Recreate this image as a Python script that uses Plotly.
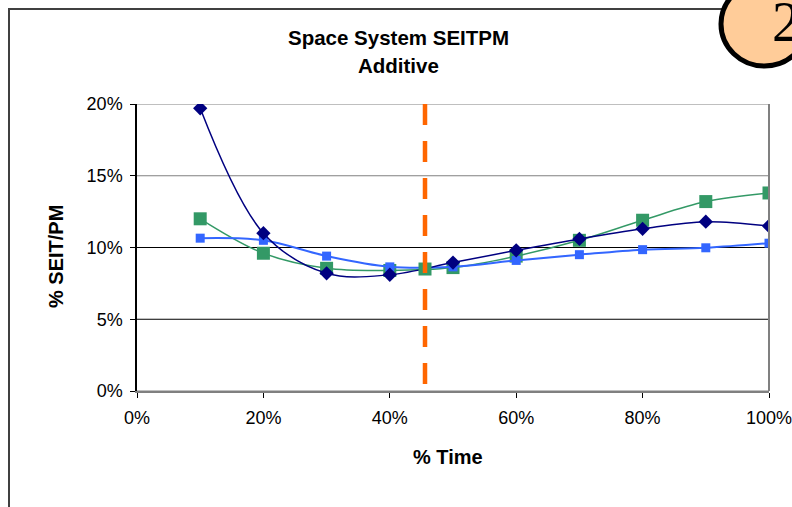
import plotly.graph_objects as go

x_time = [0.1, 0.2, 0.3, 0.4, 0.5, 0.6, 0.7, 0.8, 0.9, 1.0]
navy_vals = [0.197, 0.110, 0.082, 0.081, 0.0895, 0.098, 0.106, 0.113, 0.118, 0.115]
green_vals = [0.120, 0.096, 0.0855, 0.084, 0.086, 0.094, 0.105, 0.119, 0.132, 0.138]
blue_vals = [0.1065, 0.105, 0.094, 0.0865, 0.0865, 0.091, 0.095, 0.0985, 0.0998, 0.103]
cross_x = [0.4557]
cross_y = [0.085]
line_x = [0.4557, 0.4557]
line_y = [0.20, 0.0]
y_ticks = [0, 0.05, 0.10, 0.15, 0.20]
x_ticks = [0, 0.2, 0.4, 0.6, 0.8, 1.0]

W, H = 792, 507
L, R, T, B = 137, 23, 104, 116
pw, ph = W - L - R, H - T - B

def px(x):
    return (x - L) / pw

def py(y):
    return (H - B - y) / ph

fig = go.Figure()

# gridlines
grid_colors = ["#808080", "#000000", "#000000", "#808080", "#808080"]
for v, c in zip(y_ticks, grid_colors):
    fig.add_shape(type="line", xref="paper", yref="y", x0=0, x1=1, y0=v, y1=v,
                  line=dict(color=c, width=1), layer="below")

fig.add_trace(go.Scatter(x=x_time, y=green_vals, mode="lines+markers", line_shape="spline",
                         line=dict(color="#339966", width=1.5),
                         marker=dict(symbol="square", size=13, color="#339966")))
fig.add_trace(go.Scatter(x=x_time, y=blue_vals, mode="lines+markers", line_shape="spline",
                         line=dict(color="#3366FF", width=2),
                         marker=dict(symbol="square", size=9, color="#3366FF")))
fig.add_trace(go.Scatter(x=x_time, y=navy_vals, mode="lines+markers", line_shape="spline",
                         line=dict(color="#000080", width=1.5),
                         marker=dict(symbol="diamond", size=11, color="#000080")))
fig.add_trace(go.Scatter(x=cross_x, y=cross_y, mode="markers",
                         marker=dict(symbol="square", size=13, color="#339966")))
fig.add_trace(go.Scatter(x=line_x, y=line_y, mode="lines",
                         line=dict(color="#FF6600", width=4.5, dash="21px,16px")))

# outer chart border
fig.add_shape(type="rect", xref="paper", yref="paper",
              x0=px(9), x1=px(840), y0=py(9), y1=py(540),
              line=dict(color="#404040", width=2), fillcolor="rgba(0,0,0,0)", layer="below")
# plot area right border
fig.add_shape(type="line", xref="paper", yref="paper", x0=1, x1=1, y0=0, y1=1,
              line=dict(color="#808080", width=2))
# badge ellipse
fig.add_shape(type="circle", xref="paper", yref="paper",
              x0=px(721), x1=px(808), y0=py(-18), y1=py(66),
              line=dict(color="#000000", width=5), fillcolor="#FFCC99")
fig.add_annotation(xref="paper", yref="paper", x=px(786), y=py(22), text="2",
                   showarrow=False, font=dict(family="Liberation Serif", size=56, color="#000"),
                   xanchor="center", yanchor="middle")

fig.add_annotation(xref="paper", yref="paper", x=px(398), y=py(38),
                   text="<b>Space System SEITPM</b>", showarrow=False,
                   font=dict(family="Liberation Sans", size=20.5, color="#000"),
                   xanchor="center", yanchor="middle")
fig.add_annotation(xref="paper", yref="paper", x=px(398), y=py(65),
                   text="<b>Additive</b>", showarrow=False,
                   font=dict(family="Liberation Sans", size=20.5, color="#000"),
                   xanchor="center", yanchor="middle")
fig.add_annotation(xref="paper", yref="paper", x=px(448), y=py(457),
                   text="<b>% Time</b>", showarrow=False,
                   font=dict(family="Liberation Sans", size=20, color="#000"),
                   xanchor="center", yanchor="middle")
fig.add_annotation(xref="paper", yref="paper", x=px(56), y=py(257),
                   text="<b>% SEIT/PM</b>", showarrow=False, textangle=-90,
                   font=dict(family="Liberation Sans", size=20, color="#000"),
                   xanchor="center", yanchor="middle")

fig.update_layout(
    width=W, height=H,
    margin=dict(l=L, r=R, t=T, b=B, pad=0),
    paper_bgcolor="white", plot_bgcolor="white",
    showlegend=False,
    font=dict(family="Liberation Sans", size=18, color="#000"),
    xaxis=dict(range=[0, 1], tickvals=x_ticks, tickformat=".0%", showgrid=False,
               zeroline=False, showline=True, linecolor="#808080", linewidth=2,
               ticks="outside", ticklen=5, tickcolor="#000", tickfont=dict(size=18),
               automargin=False, ticklabeloverflow="allow", ticklabelstandoff=4),
    yaxis=dict(range=[0, 0.2], tickvals=y_ticks, tickformat=".0%", showgrid=False,
               zeroline=False, showline=True, linecolor="#000", linewidth=1.5,
               ticks="outside", ticklen=5, tickcolor="#000", tickfont=dict(size=18),
               automargin=False, ticklabeloverflow="allow", ticklabelstandoff=4),
)

fig.write_html("out.html")
